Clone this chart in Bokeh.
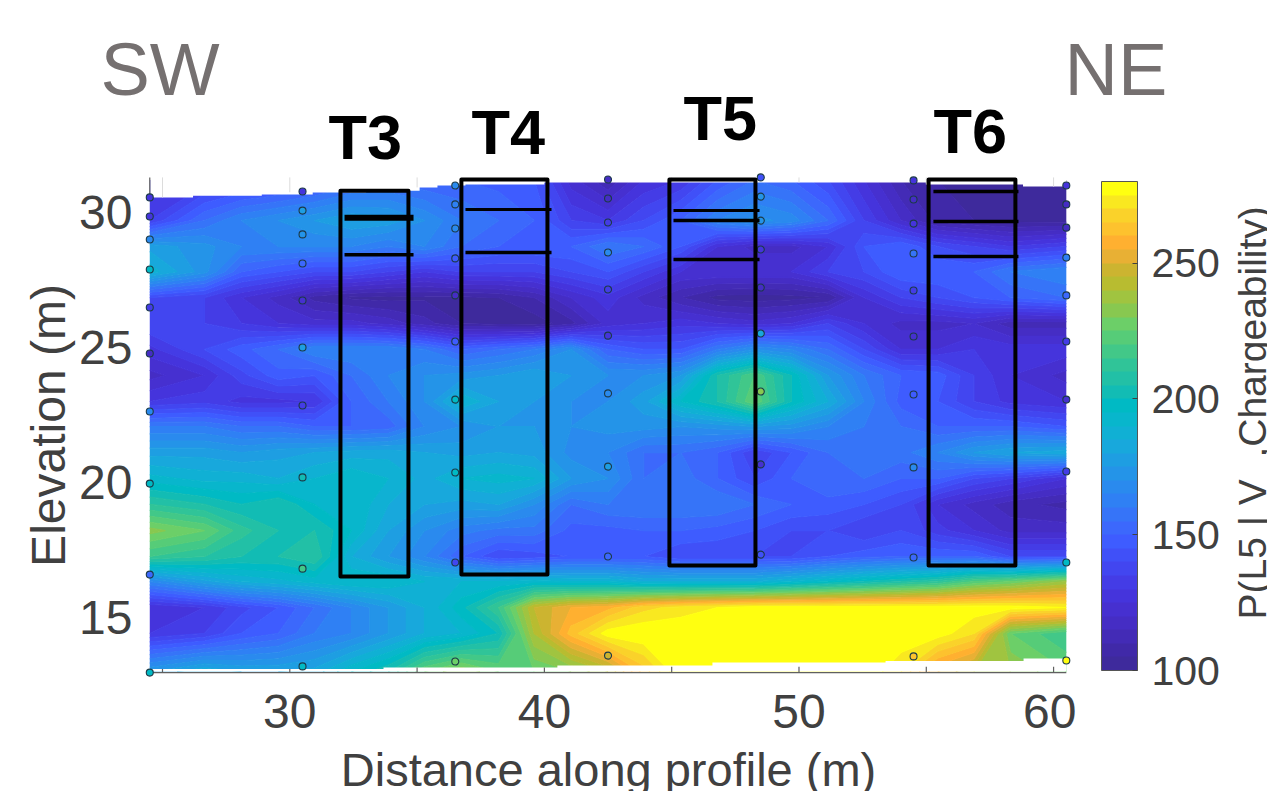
import numpy as np
from bokeh.plotting import figure
from bokeh.layouts import column, row
from bokeh.embed import file_html
from bokeh.resources import INLINE
from bokeh.models import LinearColorMapper, ColorBar, FixedTicker, Label, Range1d, ColumnDataSource

# colour scale (values 100-280, 36 bands, as in the colour bar)
palette = ["#3e2a9c","#4029a8","#432bb6","#452dc4","#4630d0","#4534dc","#443ce6","#4246f0",
           "#4050f8","#3e5cff","#3c68fc","#3674f8","#2f80f4","#2a8aee","#2494e8","#1e9ee2",
           "#18a8dc","#10b0d4","#08b6cc","#00bac4","#12bcb4","#22c0a6","#30c498","#42c888",
           "#56cc78","#6ccf68","#88c850","#a0c440","#b8bc30","#ccb430","#e8b034","#ffb030",
           "#fdc22e","#fad22a","#f9e820","#ffff10"]
scale_low, scale_high = 100, 280
scale_ticks = [100, 150, 200, 250]
levels = [100 + 5 * i for i in range(36)] + [281]

# model section: distance and elevation of the grid nodes, values with rows top to bottom
grid_x = [24.5,26.65,28.1,29.55,30.97,32.42,33.87,35.29,36.74,38.2,39.6,41.05,42.5,43.9,45.36,46.8,48.25,
          49.7,51.14,52.55,54.0,55.45,56.87,58.3,60.5]
grid_z = [31.2,29.70,28.74,27.81,26.85,25.89,24.93,23.96,23.0,22.07,21.11,20.15,19.19,18.22,17.26,16.33,
          15.37,14.41,13.0]
section = [
[130,132,135,138,142,150,152,150,150,148,145,122,110,125,130,145,155,150,140,125,110,105,105,102,102],
[135,155,165,170,175,180,178,170,160,155,150,135,130,140,150,165,172,168,155,135,120,108,105,103,103],
[178,172,165,165,165,165,160,165,155,150,150,150,160,155,145,125,118,118,125,145,150,140,135,130,135],
[188,172,150,145,140,140,135,130,135,135,135,140,145,135,125,125,125,125,135,140,150,150,150,160,165],
[140,135,125,118,108,104,103,104,104,105,110,120,128,118,110,103,102,103,105,125,135,140,145,150,155],
[140,135,130,125,122,122,118,112,105,103,102,108,122,125,128,125,122,125,135,125,118,118,120,112,112],
[128,140,148,155,165,165,165,160,150,155,160,170,150,145,145,160,170,165,155,140,125,125,130,128,128],
[118,125,138,148,145,155,165,170,172,175,180,175,170,170,175,205,220,200,175,160,150,148,135,125,118],
[130,133,128,128,130,150,160,170,190,180,175,170,170,178,195,205,225,200,185,165,148,145,135,128,125],
[160,160,155,155,150,150,152,165,170,175,175,170,172,172,170,172,175,172,165,160,155,150,150,150,145],
[178,178,175,178,180,182,183,180,178,180,178,168,165,155,155,150,135,145,155,158,158,165,175,180,183],
[192,188,188,185,190,195,190,183,190,192,190,175,170,155,158,150,140,150,155,155,150,150,140,135,125],
[210,205,200,205,195,195,185,180,178,180,170,155,160,160,160,160,155,150,148,145,140,125,118,112,108],
[232,225,212,205,205,195,180,170,162,158,158,148,148,150,150,148,145,140,140,135,140,132,125,118,118],
[215,210,205,205,210,185,175,165,150,140,142,145,145,145,140,140,140,140,145,148,150,150,150,140,140],
[165,178,185,188,192,195,195,190,190,190,192,190,190,185,185,185,185,190,195,200,205,210,220,225,235],
[125,130,138,145,155,165,175,185,198,215,245,255,258,268,272,275,278,278,278,278,278,278,278,278,275],
[130,135,145,150,160,165,175,185,190,200,240,262,278,280,280,280,280,280,280,280,280,278,270,225,215],
[175,185,180,180,182,195,205,225,235,225,225,230,240,262,280,280,280,280,280,280,270,250,240,235,225],
]

# section outline: top and bottom edge, stepwise along the profile
top_x = [24.52, 26.2, 28.9, 30.9, 33.0, 35.1, 35.8, 36.9, 40.0, 55.0, 58.8, 60.5]
top_z = [30.56, 30.62, 30.67, 30.74, 30.81, 30.93, 31.0, 31.04, 31.11, 31.04, 30.96, 30.96]
bot_x = [24.52, 33.68, 40.51, 46.6, 53.4, 58.82, 60.5]
bot_z = [13.09, 13.15, 13.22, 13.33, 13.39, 13.48, 13.48]

# measurement points
pt_x = [24.5, 30.5, 36.5, 42.5, 48.5, 54.5, 60.5]
pt_z = [
 [30.56,29.85,29.0,27.89,26.48,24.78,22.63,19.96,16.59,12.96],
 [30.78,30.07,29.19,28.11,26.74,25.0,22.85,20.19,16.81,13.19],
 [31.0,30.3,29.41,28.3,26.93,25.22,23.07,20.37,17.04,13.37],
 [31.22,30.52,29.63,28.52,27.15,25.44,23.3,20.59,17.26,13.59],
 [31.3,30.59,29.7,28.63,27.22,25.52,23.37,20.67,17.33],
 [31.19,30.48,29.59,28.48,27.11,25.41,23.26,20.56,17.22,13.56],
 [31.0,30.3,29.44,28.33,26.93,25.22,23.07,20.41,17.04,13.41],
]
pt_v = [
 [125,125,165,195,130,118,165,195,150,195],
 [125,175,170,150,120,175,130,200,215,195],
 [165,160,165,145,115,145,195,195,135,225],
 [115,115,130,165,130,125,165,175,150,245],
 [140,170,170,125,115,180,230,120,140],
 [125,115,125,155,130,120,145,165,150,260],
 [125,115,115,160,150,130,120,130,195,275],
]

# trenches
trench_names = ["T3", "T4", "T5", "T6"]
trench_left = [31.99, 36.74, 44.91, 55.09]
trench_right = [34.66, 40.12, 48.29, 58.50]
trench_top = [30.81, 31.22, 31.22, 31.22]
trench_bottom = [16.52, 16.59, 16.93, 16.93]
layer_left = [32.15, 36.90, 45.07, 55.28]
layer_right = [34.86, 40.28, 48.45, 58.62]
layers = [[29.81, 28.44], [30.11, 28.52], [30.07, 29.70, 28.26], [30.78, 29.67, 28.37]]
layer_widths = [[6, 3.5], [3, 3.5], [3, 3.5, 3.5], [3.5, 3.5, 3.5]]

x_ticks = [25, 30, 35, 40, 45, 50, 55, 60]
x_tick_text = {25: "", 30: "30", 35: "", 40: "40", 45: "", 50: "50", 55: "", 60: "60"}
x_tick_top = [13.09, 13.09, 13.15, 13.15, 13.18, 13.18, 13.18, 13.18]
y_ticks = [15, 20, 25, 30]
box_tick_z = [30.56, 30.75, 30.93, 31.11, 31.11, 31.11, 31.04, 30.96]
axis_x_left, axis_x_right = 24.5, 60.5
axis_z_low, axis_z_high = 12.96, 31.3

AX = "#404040"
LINE = "#606060"
FONT = "Liberation Sans"
TOP_H = 170
F_LEFT, F_RIGHT, F_BOTTOM = 140, 1076, 680
W, H = 1267, 791

p = figure(width=F_RIGHT, height=H - TOP_H, frame_height=F_BOTTOM - TOP_H, output_backend="svg", toolbar_location=None,
           x_range=Range1d(24.136, 60.90), y_range=Range1d(12.667, 31.556),
           min_border_left=F_LEFT, min_border_right=0, min_border_top=0, min_border_bottom=H - F_BOTTOM,
           background_fill_color="white", border_fill_color="white", outline_line_color=None)
p.grid.visible = False

mapper = LinearColorMapper(palette=palette, low=scale_low, high=scale_high)
grid = np.flipud(np.array(section, dtype=float))
p.contour(grid_x, grid_z[::-1], grid, levels, fill_color=palette,
          line_color=palette + [palette[-1]], line_width=1.2)

# blank the area outside of the section
p.varea_step(x=top_x, y1=top_z, y2=[31.3] * len(top_x), step_mode="after", fill_color="white")
p.varea_step(x=bot_x, y1=bot_z, y2=[13.0] * len(bot_x), step_mode="after", fill_color="white")

# faint box ticks at the top, axis lines and ticks
p.segment(x0=x_ticks, x1=x_ticks, y0=box_tick_z, y1=[axis_z_high] * 8, line_color="#dcdcdc", line_width=1)
p.segment(x0=[axis_x_left], x1=[axis_x_left], y0=[top_z[0]], y1=[axis_z_high], line_color=LINE, line_width=1.2)
p.segment(x0=[axis_x_left], x1=[axis_x_right], y0=[axis_z_low], y1=[axis_z_low], line_color=LINE, line_width=1.2)
p.segment(x0=x_ticks, x1=x_ticks, y0=[axis_z_low] * 8, y1=x_tick_top, line_color=LINE, line_width=1.2)

xs, zs, vs = [], [], []
for x, col_z, col_v in zip(pt_x, pt_z, pt_v):
    xs += [x] * len(col_z); zs += col_z; vs += col_v
src = ColumnDataSource(dict(x=xs, z=zs, v=vs))
p.scatter("x", "z", source=src, size=7, marker="circle",
          fill_color={"field": "v", "transform": mapper}, line_color="#1c3a48", line_width=1.1)

for i in range(4):
    p.quad(left=trench_left[i], right=trench_right[i], top=trench_top[i], bottom=trench_bottom[i],
           fill_color=None, line_color="black", line_width=4, line_join="round")
    for z, w in zip(layers[i], layer_widths[i]):
        p.line([layer_left[i], layer_right[i]], [z, z], line_color="black", line_width=w)

ax = p.xaxis[0]
ax.ticker = FixedTicker(ticks=x_ticks)
ax.major_label_overrides = x_tick_text
ax.axis_label = "Distance along profile (m)"
ay = p.yaxis[0]
ay.ticker = FixedTicker(ticks=y_ticks)
ay.axis_label = "Elevation (m)"
for a in (ax, ay):
    a.axis_line_color = None
    a.major_tick_line_color = None
    a.minor_tick_line_color = None
    a.major_label_text_font = FONT
    a.major_label_text_font_size = "48px"
    a.major_label_text_color = AX
    a.axis_label_text_font = FONT
    a.axis_label_text_font_style = "normal"
    a.axis_label_text_color = AX
ax.axis_label_text_font_size = "47px"
ay.axis_label_text_font_size = "48px"
ax.major_label_standoff = 8
ax.axis_label_text_line_height = 0.6
ax.axis_label_standoff = 12
ay.major_label_standoff = 2
ay.axis_label_standoff = 1

# header strip with the site and trench names
head = figure(width=W, height=TOP_H, output_backend="svg", toolbar_location=None,
              x_range=Range1d(0, W), y_range=Range1d(0, TOP_H), x_axis_type=None, y_axis_type=None,
              min_border=0, outline_line_color=None, background_fill_color="white", border_fill_color="white")
head.grid.visible = False

def label(fig, text, px, height_above_bottom, size, color, style="normal", angle=0):
    fig.add_layout(Label(x=px, y=height_above_bottom, x_units="screen", y_units="screen", text=text,
                         text_font=FONT, text_font_size=f"{size}px", text_color=color,
                         text_font_style=style, angle=angle, angle_units="deg",
                         text_baseline="alphabetic", text_align="left"))

label(head, "SW", 100, TOP_H - 69, 74, "#757070")
label(head, "NE", 1064, TOP_H - 69, 74, "#757070")
for name, px, py in zip(trench_names, [328, 471, 683, 933], [136, 131, 117, 130]):
    label(head, name, px, TOP_H - py, 63, "black", "bold")

# colour bar strip (its frame lines up with the frame of the section)
side = figure(width=W - F_RIGHT, height=H - TOP_H, output_backend="svg", toolbar_location=None,
              x_range=Range1d(0, W - F_RIGHT), y_range=Range1d(0, H - TOP_H), x_axis_type=None, y_axis_type=None,
              min_border=0, outline_line_color=None, background_fill_color="white", border_fill_color="white")
side.grid.visible = False
cb = ColorBar(color_mapper=mapper, location=(1101 - F_RIGHT, 3), width=36, height=489, padding=0, margin=0,
              ticker=FixedTicker(ticks=scale_ticks), major_tick_in=5, major_tick_out=0,
              major_tick_line_color="#404040", bar_line_color="#555555", minor_tick_line_color=None,
              major_label_text_font=FONT, major_label_text_font_size="41px",
              major_label_text_color=AX, label_standoff=14, background_fill_color=None,
              border_line_color=None)
side.add_layout(cb)
label(side, "P(L5 | V_,Chargeability)", 1252 - F_RIGHT, F_BOTTOM - 626, 39, AX, angle=90)

page = column(head, row(p, side, spacing=0), spacing=0)
open("out.html", "w").write(file_html(page, INLINE))
